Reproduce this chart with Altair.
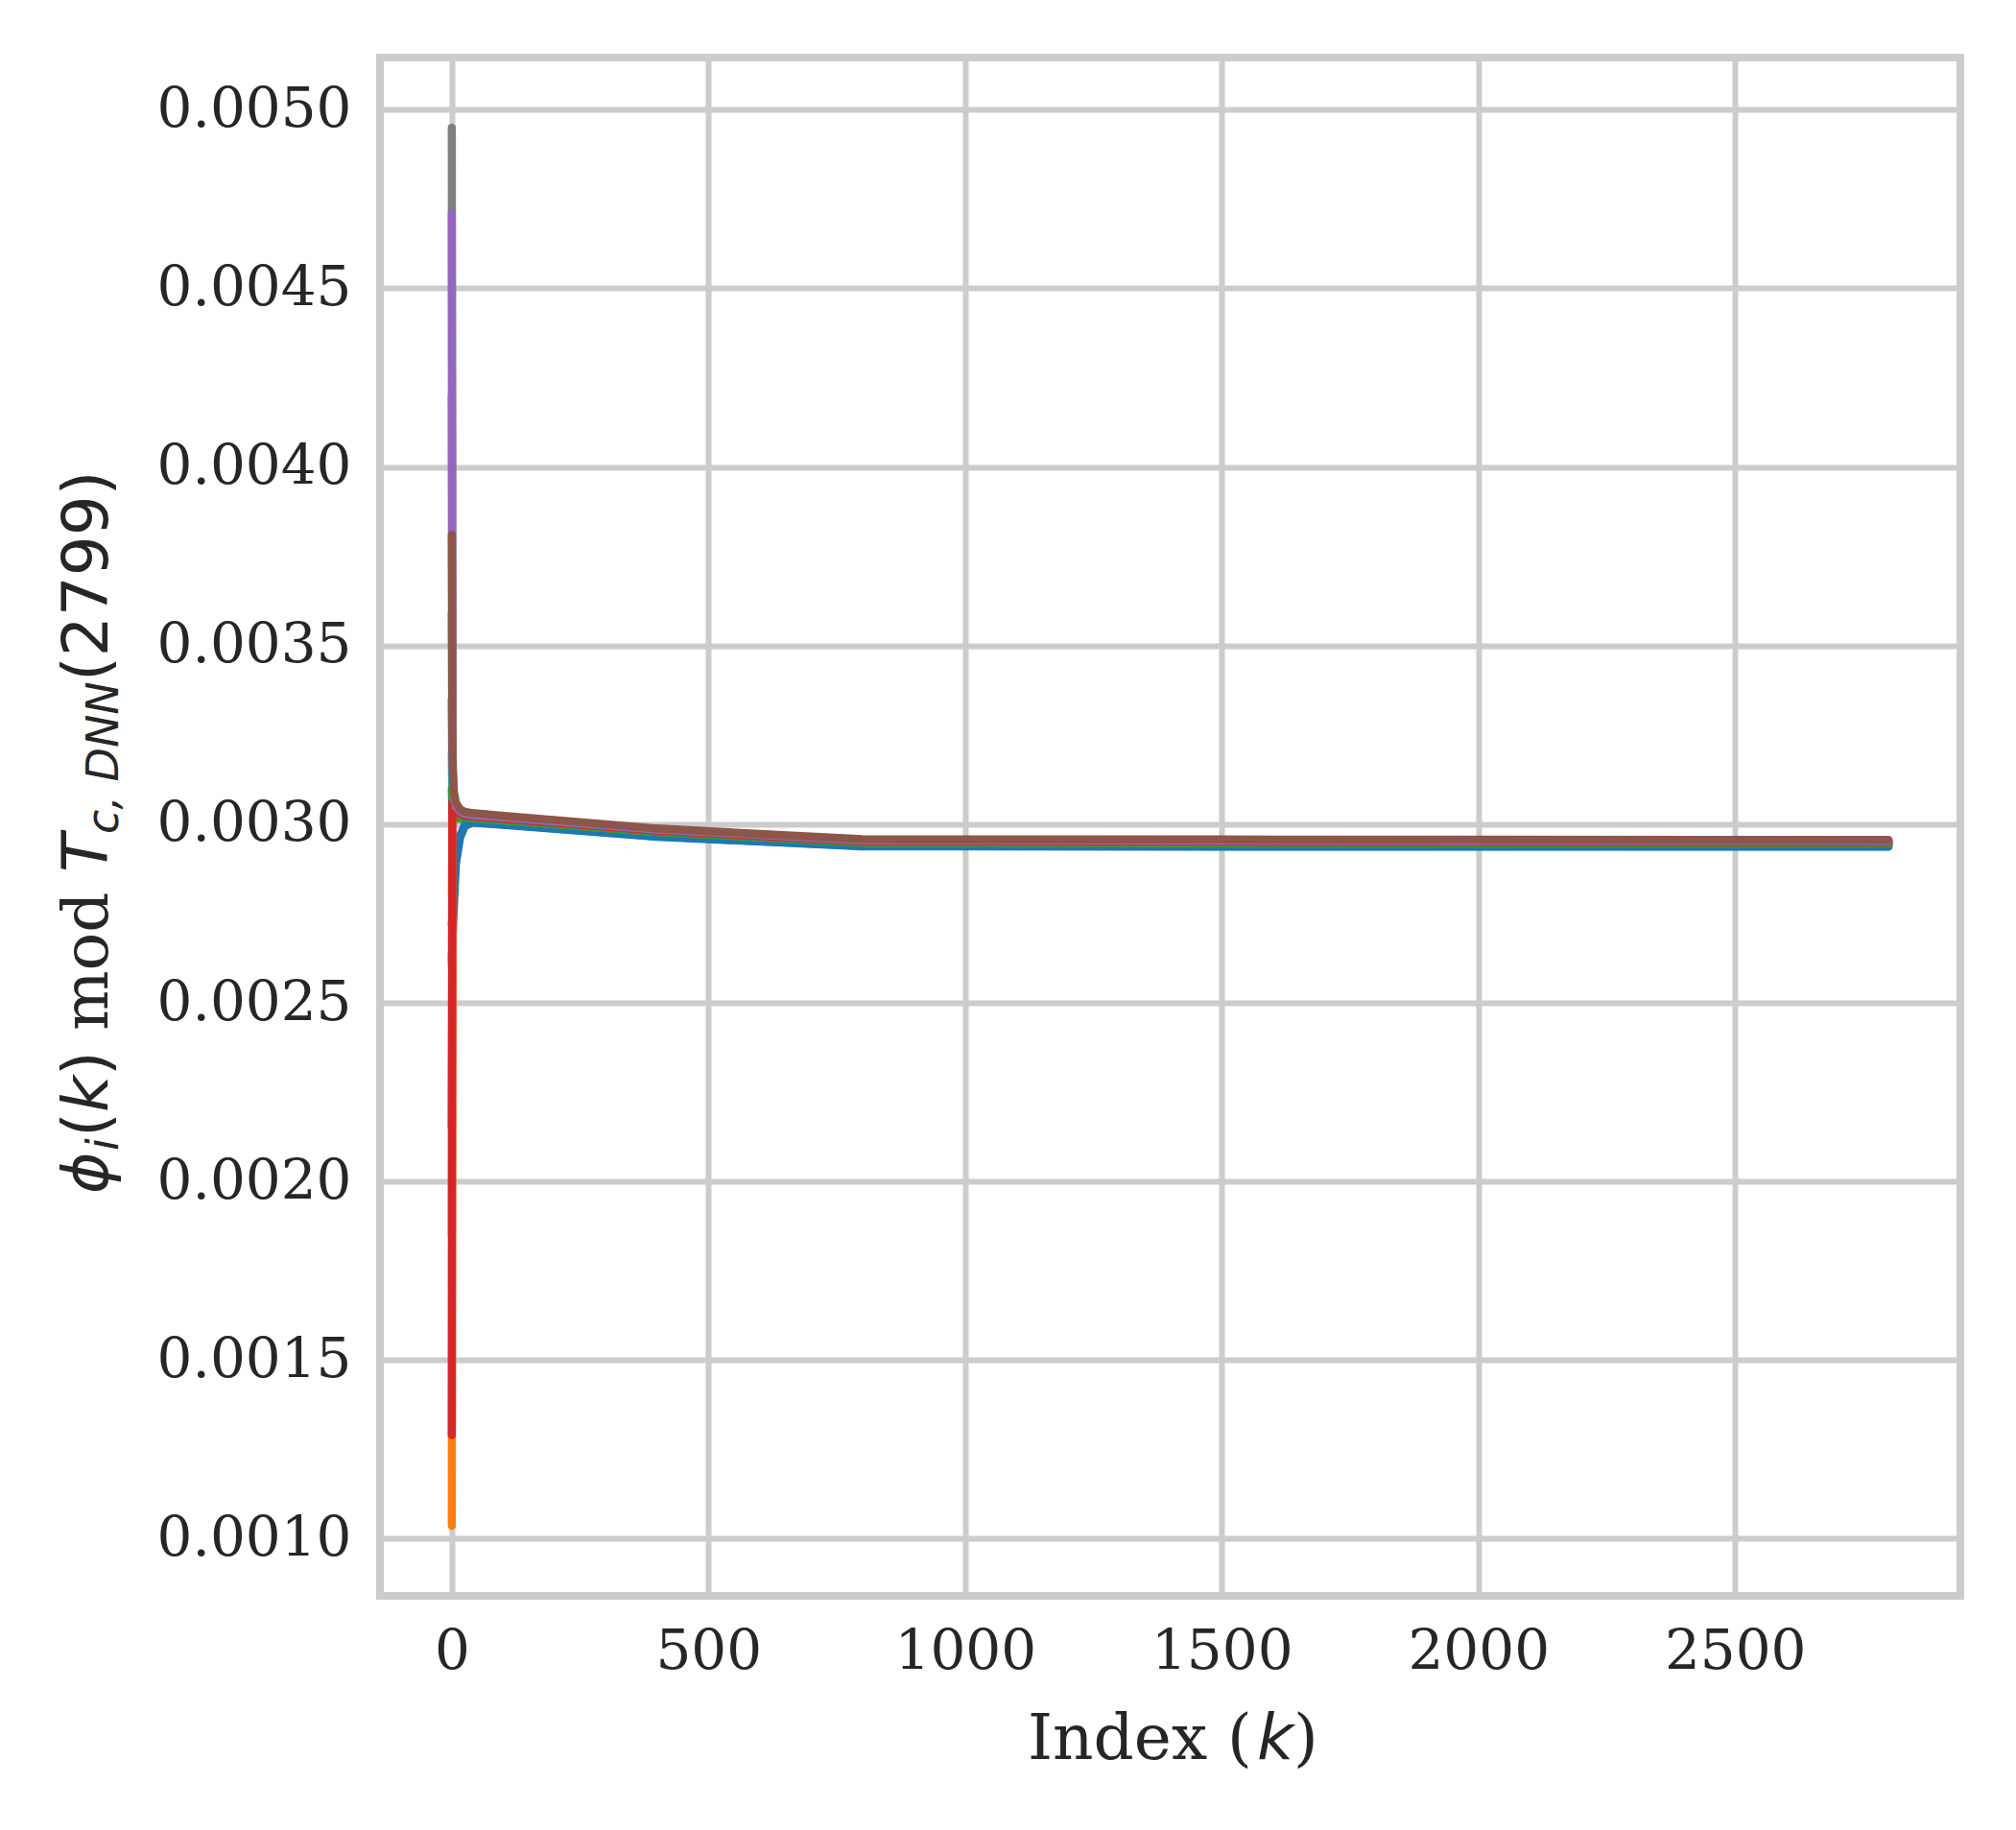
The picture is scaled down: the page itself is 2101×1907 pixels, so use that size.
import altair as alt
import pandas as pd

# ---------------- data ----------------
K = [0, 1, 2, 4, 8, 16, 25, 40, 400, 800, 1600, 2799]

S00 = [0.00262, 0.00266, 0.00270, 0.00277, 0.00289, 0.002962, 0.002994, 0.003005, 0.002965, 0.002938, 0.002937, 0.002937]
S01 = [0.00185, 0.00296, 0.00300, 0.00301, 0.003014, 0.003013, 0.003012, 0.003012, 0.002973, 0.002943, 0.002942, 0.002942]
S02 = [0.00359, 0.00312, 0.00306, 0.00304, 0.003027, 0.003019, 0.003016, 0.003015, 0.002976, 0.002946, 0.002945, 0.002945]
S03 = [0.00215, 0.00298, 0.00302, 0.00303, 0.003028, 0.003022, 0.003018, 0.003017, 0.002977, 0.002947, 0.002946, 0.002946]
S04 = [0.00420, 0.00318, 0.00310, 0.00306, 0.003040, 0.003029, 0.003023, 0.003021, 0.002981, 0.002951, 0.002950, 0.002949]
S05 = [0.00335, 0.00310, 0.00306, 0.00305, 0.003042, 0.003032, 0.003027, 0.003024, 0.002984, 0.002954, 0.002953, 0.002952]
S06 = [0.00260, 0.00300, 0.00303, 0.00304, 0.003036, 0.003030, 0.003025, 0.003022, 0.002983, 0.002953, 0.002952, 0.002951]
S07 = [0.00495, 0.00332, 0.00315, 0.00308, 0.003052, 0.003038, 0.003030, 0.003027, 0.002986, 0.002956, 0.002955, 0.002954]
S08 = [0.00280, 0.00300, 0.00301, 0.00301, 0.003014, 0.003013, 0.003012, 0.003012, 0.002974, 0.002944, 0.002943, 0.002943]
S09 = [0.00320, 0.00305, 0.00303, 0.00302, 0.003018, 0.003015, 0.003013, 0.003013, 0.002975, 0.002945, 0.002944, 0.002944]
S10 = [0.00272, 0.00274, 0.00277, 0.00282, 0.00291, 0.002968, 0.002997, 0.003006, 0.002966, 0.002939, 0.002938, 0.002938]
S11 = [0.001036, 0.00297, 0.00301, 0.00302, 0.003022, 0.003020, 0.003019, 0.003018, 0.002979, 0.002949, 0.002948, 0.002947]
S12 = [0.00310, 0.00303, 0.00302, 0.00302, 0.003020, 0.003018, 0.003017, 0.003017, 0.002978, 0.002948, 0.002947, 0.002946]
S13 = [0.00129, 0.00306, 0.00305, 0.00304, 0.003035, 0.003029, 0.003024, 0.003022, 0.002982, 0.002952, 0.002951, 0.002950]
S14 = [0.00471, 0.00322, 0.00312, 0.00307, 0.003050, 0.003036, 0.003029, 0.003026, 0.002985, 0.002955, 0.002954, 0.002953]
S15 = [0.00381, 0.00326, 0.00315, 0.00309, 0.003060, 0.003042, 0.003035, 0.003031, 0.002988, 0.002958, 0.002957, 0.002956]

SERIES = [S00, S01, S02, S03, S04, S05, S06, S07, S08, S09, S10, S11, S12, S13, S14, S15]

X_TICKS = [0, 500, 1000, 1500, 2000, 2500]
Y_TICKS = [0.0010, 0.0015, 0.0020, 0.0025, 0.0030, 0.0035, 0.0040, 0.0045, 0.0050]

# ---------------- style ----------------
TAB10 = ["#1f77b4", "#ff7f0e", "#2ca02c", "#d62728", "#9467bd",
         "#8c564b", "#e377c2", "#7f7f7f", "#bcbd22", "#17becf"]
TEXT = "#262626"
GRID = "#cccccc"
W, H = 1647, 1603
XDOM = [-139.95, 2938.95]
YDOM = [0.00084, 0.005146]

rows = [{"k": k, "v": v, "s": i}
        for i, vals in enumerate(SERIES) for k, v in zip(K, vals)]
df = pd.DataFrame(rows)

xenc = alt.X("k:Q",
             scale=alt.Scale(domain=XDOM, nice=False, zero=False),
             axis=alt.Axis(values=X_TICKS, format="d", title=None))
yenc = alt.Y("v:Q",
             scale=alt.Scale(domain=YDOM, nice=False, zero=False),
             axis=alt.Axis(values=Y_TICKS, format=".4f", title=None))

layers = []
for i in range(len(SERIES)):
    layers.append(
        alt.Chart(df)
        .transform_filter(alt.datum.s == i)
        .mark_line(color=TAB10[i % 10], strokeWidth=8.5,
                   strokeCap="round", strokeJoin="round")
        .encode(x=xenc, y=yenc)
    )


def piece(text, x, y, font, size, style="normal", angle=0):
    return (
        alt.Chart(alt.Data(values=[{}]))
        .mark_text(text=text, font=font, fontSize=size, fontStyle=style,
                   angle=angle, align="left", baseline="alphabetic",
                   color=TEXT)
        .encode(x=alt.value(x), y=alt.value(y))
    )


SANS = "DejaVu Sans"
SERIF = "DejaVu Serif"
FS = 66
SUB = 46
YB = -284      # baseline of y title (main)
YS = -273      # baseline of y title subscripts

texts = [
    # x axis title: Index (k)
    piece("Index (", 675, 1773, SERIF, FS),
    piece("k", 914, 1773, SANS, FS, "italic"),
    piece(")", 952, 1773, SERIF, FS),
    # y axis title: phi_i(k) mod T_{c,DNN}(2799)
    piece("ϕ", YB, 1184, SANS, FS, "italic", 270),
    piece("i", YS, 1139, SANS, SUB, "italic", 270),
    piece("(", YB, 1125, SANS, FS, "normal", 270),
    piece("k", YB, 1099, SANS, FS, "italic", 270),
    piece(")", YB, 1061, SANS, FS, "normal", 270),
    piece("mod", YB, 1014, SERIF, FS, "normal", 270),
    piece("T", YB, 849, SANS, FS, "italic", 270),
    piece("c, DNN", YS, 809, SANS, SUB, "italic", 270),
    piece("(2799)", YB, 650, SANS, FS, "normal", 270),
]

chart = (
    alt.layer(*layers, *texts)
    .properties(
        width=W, height=H,
        autosize=alt.AutoSizeParams(type="none"),
        padding={"left": 388, "top": 52, "right": 50, "bottom": 230},
        background="white",
    )
    .configure_view(stroke=GRID, strokeWidth=8)
    .configure_axis(
        grid=True, gridColor=GRID, gridWidth=6, gridOpacity=1,
        domain=False, ticks=False, tickSize=0,
        labelFont=SERIF, labelFontSize=58, labelColor=TEXT,
        labelFlush=False, labelOverlap=False, labelLimit=600,
    )
    .configure_axisX(labelPadding=75, labelBaseline="alphabetic")
    .configure_axisY(labelPadding=30)
)

chart.save("out.html", embed_options={"renderer": "svg", "actions": False})
